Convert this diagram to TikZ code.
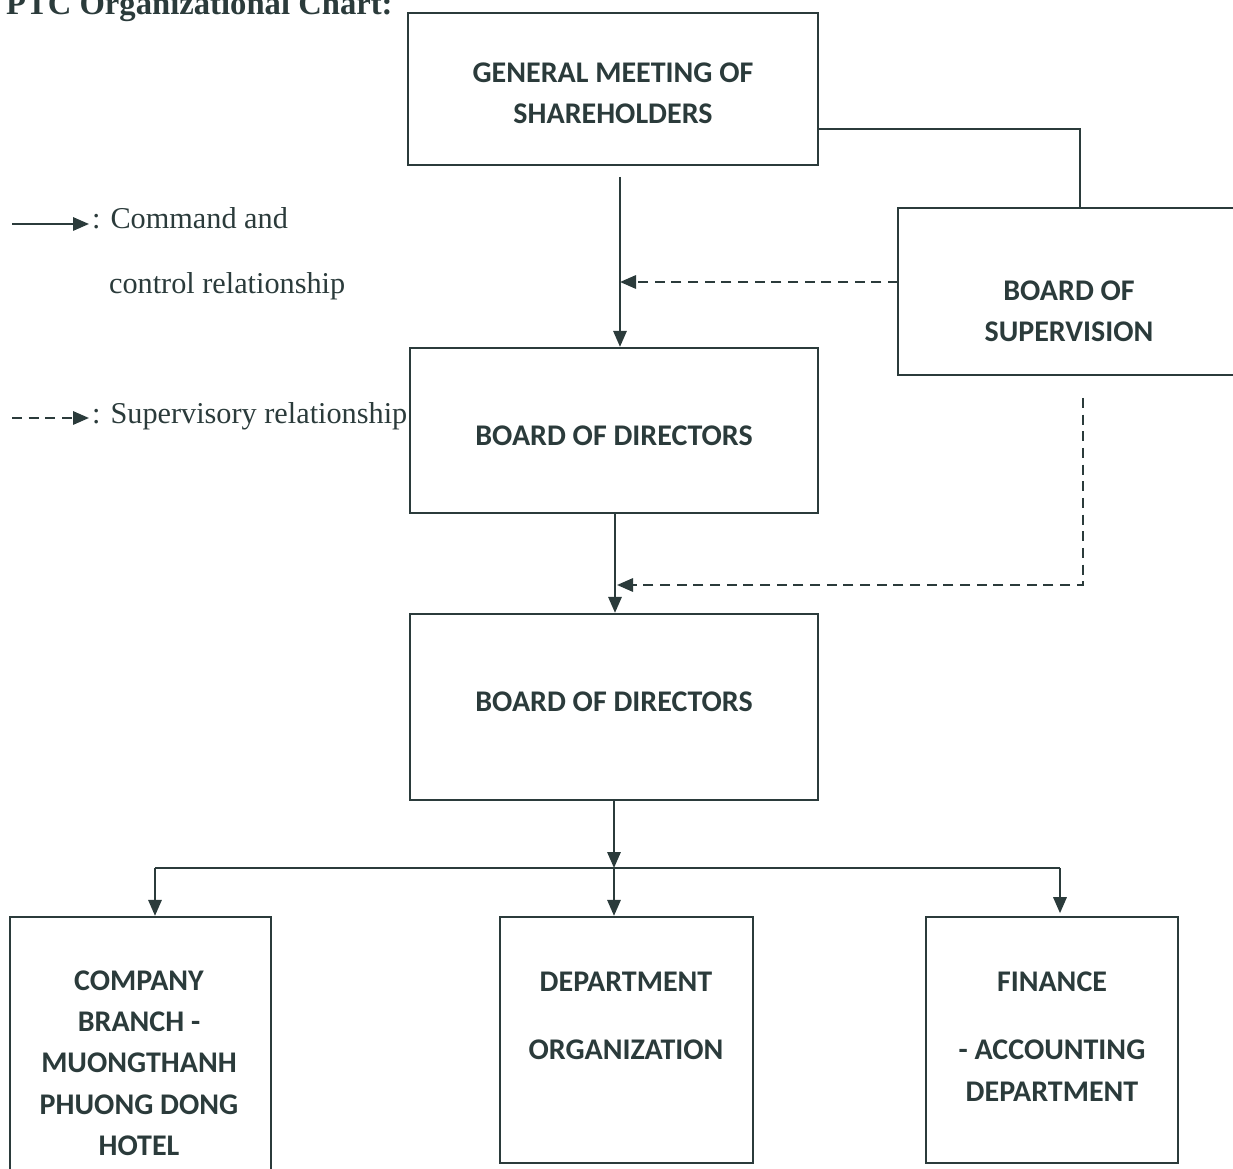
\documentclass[tikz,border=0pt]{standalone}
\usepackage{fontspec}
\setmainfont{Liberation Serif}
\newfontfamily\boxfont{Carlito}
\usetikzlibrary{arrows.meta}
\definecolor{ink}{HTML}{2B3B3B}
\begin{document}
\begin{tikzpicture}[x=0.75pt,y=-0.75pt,
  line width=1.6pt, draw=ink, color=ink,
  box/.style={draw=ink, rectangle, inner sep=0pt, line width=1.7pt},
  boxtext/.style={align=center, font=\boxfont\bfseries\fontsize{22.5}{31}\selectfont, text=ink, inner sep=0pt},
  legtext/.style={anchor=base west, font=\fontsize{22.7}{26}\selectfont, text=ink, inner sep=0pt},
  cmd/.style={draw=ink, -{Triangle[length=12pt,width=10pt]}},
  sup/.style={draw=ink, dash pattern=on 7.5pt off 5pt, -{Triangle[length=12pt,width=10pt]}},
  plain/.style={draw=ink, line width=1.3pt}]
\useasboundingbox (0,0) rectangle (1233,1169);

% title
\node[anchor=base west, inner sep=0pt, font=\bfseries\fontsize{24.5}{28}\selectfont, text=ink] (title) at (5,15) {PTC Organizational Chart:};

% legend
\coordinate (l1a) at (12,224);
\coordinate (l1b) at (89,224);
\draw[cmd] (l1a) -- (l1b);
\node[legtext] (leg1) at (91,229) {: Command and};
\node[legtext] (leg1b) at (108,294) {control relationship};
\coordinate (l2a) at (12,418);
\coordinate (l2b) at (89,418);
\draw[sup] (l2a) -- (l2b);
\node[legtext] (leg2) at (91,424) {: Supervisory relationship};

% boxes
\node[box, minimum width=307.5pt, minimum height=114pt] (gm) at (613,89) {};
\node[boxtext] (gmt) at (613,93) {GENERAL MEETING OF\\SHAREHOLDERS};

\node[box, minimum width=256.5pt, minimum height=125.25pt] (bos) at (1069,291.5) {};
\node[boxtext] (bost) at (1069,311.5) {BOARD OF\\SUPERVISION};

\node[box, minimum width=306pt, minimum height=123.75pt] (bod1) at (614,430.5) {};
\node[boxtext] (bod1t) at (614,436) {BOARD OF DIRECTORS};

\node[box, minimum width=306pt, minimum height=139.5pt] (bod2) at (614,707) {};
\node[boxtext] (bod2t) at (614,702) {BOARD OF DIRECTORS};

\node[box, minimum width=195.75pt, minimum height=197.25pt] (b1) at (140.5,1048.5) {};
\node[boxtext] (b1t) at (139,1063) {COMPANY\\BRANCH -\\MUONGTHANH\\PHUONG DONG\\HOTEL};

\node[box, minimum width=189.75pt, minimum height=184.5pt] (b2) at (626.5,1040) {};
\node[boxtext] (b2t) at (626,1016) {DEPARTMENT\\[20pt]ORGANIZATION};

\node[box, minimum width=189pt, minimum height=184.5pt] (b3) at (1052,1040) {};
\node[boxtext] (b3t) at (1052,1036.5) {FINANCE\\[20pt]- ACCOUNTING\\DEPARTMENT};

% connectors
\coordinate (gmout) at (620,177);
\draw[cmd] (gmout) -- (gmout |- bod1.north);

\coordinate (gmr) at (818,129);
\coordinate (bosup) at (1080,208);
\draw[plain] (gmr) -| (bosup);

\coordinate (bosl) at (898,282);
\coordinate (v1) at (620,282);
\draw[sup] (bosl) -- (v1);

\draw[cmd] (615,513) coordinate (d1out) -- (d1out |- bod2.north);

\coordinate (bosdn) at (1083,398);
\coordinate (bosdc) at (1083,585);
\coordinate (v2) at (617,585);
\draw[sup] (bosdn) -- (bosdc) -- (v2);

\coordinate (d2out) at (614,800);
\coordinate (bus) at (614,868);
\draw[cmd] (d2out) -- (bus);
\coordinate (busl) at (155,868);
\coordinate (busr) at (1060,868);
\draw[plain, line width=1.6pt] (busl) -- (busr);
\draw[cmd] (busl) -- (busl |- b1.north);
\draw[cmd] (bus) -- (bus |- b2.north);
\draw[cmd] (busr) -- ([yshift=2pt]busr |- b3.north);
\end{tikzpicture}
\end{document}
